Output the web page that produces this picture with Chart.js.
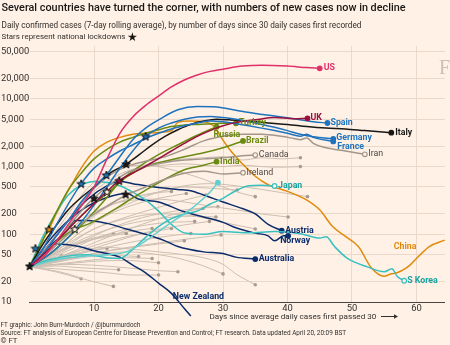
<!DOCTYPE html>
<html><head><meta charset="utf-8">
<script src="https://cdn.jsdelivr.net/npm/chart.js@4"></script>
<style>html,body{margin:0;padding:0;background:#fff1e5;}canvas{display:block}</style>
</head><body>
<div style="width:450px;height:345px"><canvas id="c" width="450" height="345"></canvas></div>
<script>
// ---------- DATA: [days since 30 daily cases, daily cases (7-day avg)] ----------
const us = [[0,33],[2,45],[4,75],[6,140],[8,260],[10,500],[12,1300],[14,3100],[16,5400],[18,8000],[20,11000],[22,15000],[24,19000],[26,22500],[28,25500],[30,27500],[33,30500],[36,31500],[40,30500],[43,29000],[45,28300]];
const uk = [[0,33],[3,60],[6,120],[9,230],[12,430],[13.9,620],[17,900],[19,1150],[22,1700],[24,2200],[26,2800],[28,3400],[30,4000],[32,4500],[35,4900],[38,5300],[41,5100],[43.1,5170]];
const spain = [[0,33],[2,50],[4,90],[6,160],[8,300],[10,500],[11.9,750],[14,1400],[16,2500],[18,3700],[20,4900],[23,6900],[26,7700],[29,7600],[32,6800],[35,6100],[38,5600],[41,5100],[44,4600],[46.2,4400]];
const france = [[0,33],[2,60],[4,130],[6,280],[8,560],[10,950],[12,1300],[14,1700],[16,2100],[18,2600],[20,3100],[22,3600],[24,4000],[26,4400],[28,4700],[30,4600],[32,4300],[34,4000],[36,3700],[38,3400],[40,3100],[42,2800],[43,3000],[44,2700],[47.1,2350]];
const germany = [[0,33],[3,50],[6,90],[9,200],[12,500],[14,950],[16,1700],[18,2800],[20,3700],[22,4400],[24,5000],[26,5400],[28,5500],[30,5300],[32,5000],[34,4600],[36,4200],[38,3800],[40,3400],[42,3000],[44,2750],[47.1,2560]];
const italy = [[0,33],[2,70],[4,130],[6,230],[8,350],[10,500],[12,750],[15,1090],[17,1500],[19,2100],[21,2800],[23,3500],[25,4200],[27,4700],[29,5000],[31,4900],[34,4700],[37,4400],[40,4200],[43,3900],[46,3700],[49,3600],[52,3400],[56.1,3170]];
const iran = [[0,33],[3,70],[6,160],[9,380],[12,700],[15,1000],[18,1200],[21,1400],[24,1800],[27,2400],[30,2800],[33,3000],[36,3000],[39,2800],[41,2600],[42,2500],[43,2650],[44,2200],[46,1900],[49,1700],[52,1520]];
const canada = [[0,33],[3,60],[6,130],[9,280],[12,500],[15,800],[18,1000],[21,1150],[24,1250],[27,1300],[30,1350],[33,1450],[35,1480]];
const turkey = [[0,33],[2,80],[4,200],[6,450],[8,800],[10,1300],[12,1800],[14,2300],[16,2700],[18,3100],[20,3500],[22,3900],[24,4100],[26,4200],[28,4300],[30,4350],[32,4360]];
const russia = [[0,33],[3,50],[6,90],[9,170],[12,350],[14,600],[17,1000],[20,1500],[23,2100],[26,2900],[29,3880]];
const brazil = [[0,33],[3,60],[6,120],[9,230],[12,400],[15,700],[18,1000],[21,1200],[24,1400],[27,1600],[30,1900],[33.1,2390]];
const india = [[0,33],[3,60],[5,90],[7,119],[9,140],[12,200],[15,300],[18,450],[21,650],[24,900],[27,1050],[29,1180]];
const ireland = [[0,33],[3,55],[6,100],[9,170],[12,260],[15,380],[18,500],[21,650],[24,800],[27,850],[30,780],[33.1,813]];
const japan = [[0,33],[3,42],[6,48],[9,50],[12,45],[14,44],[16,60],[18,90],[20,130],[22,170],[24,200],[26,220],[28,280],[30,340],[32,440],[34,520],[36,530],[38,517]];
const singapore = [[0,33],[3,40],[6,45],[9,48],[12,50],[15,55],[18,80],[20,110],[22,150],[24,200],[26,280],[28,420],[29.2,580]];
const china = [[0,33],[1,50],[2,80],[3,118],[4,190],[5,290],[6,450],[7,650],[8,950],[9,1300],[10,1700],[12,2300],[14,2700],[16,3000],[18,3100],[20,3200],[22,3400],[23,4500],[25,4700],[27,4600],[28.5,4000],[29.5,2900],[31,1800],[33,1100],[35,720],[37,540],[40,430],[43,320],[45,230],[47,130],[49,93],[51,66],[53,32],[55,24],[56,26],[57,27],[58,30],[59,35],[60,44],[62,66],[64.4,82]];
const sKorea = [[0,33],[2,90],[4,200],[6,380],[8,530],[10,600],[12,580],[14,520],[16,420],[18,320],[20,220],[22,140],[24,105],[27,100],[30,110],[34,105],[38,110],[42,102],[45,88],[46,92],[47.3,66],[49.3,44],[52.4,33],[55,28],[56.2,31],[57,24],[58.1,20.6]];
const austria = [[0,33],[3,70],[6,160],[9,330],[12,520],[14,600],[16,560],[18,520],[20,490],[23,460],[25,440],[27,380],[30,300],[33,240],[35,200],[37,140],[39.1,113]];
const norway = [[0,33],[3,80],[6,160],[9,260],[12,350],[15,400],[17,330],[20,300],[24,215],[27,180],[30,150],[32,125],[35,104],[37,95],[38,80],[39.4,95],[40.1,95]];
const australia = [[0,33],[3,65],[6,120],[7,160],[9,160],[12,145],[15,120],[18,100],[21,80],[23,66],[27,55],[30,52],[32,46],[35,43]];
const newZealand = [[0,33],[2,55],[4,72],[6,70],[8,65],[10,57],[12,52],[14,46],[16,35],[18,27],[20,19],[22,13.4],[24,8],[25,6.2]];

const otherCountries = [
 [[0,33],[3,60],[6,130],[9,280],[12,500],[15,800],[18,1050],[21,1200],[24,1300],[27,1350],[30,1400],[33,1250],[36,1350],[39,1300],[42,1350]],
 [[0,33],[3,70],[6,160],[9,350],[12,600],[15,850],[18,1000],[21,1050],[24,1100],[27,1050],[30,1000],[33,1050],[36,1000],[39,980],[42,1000]],
 [[0,33],[3,80],[6,200],[9,480],[12,800],[15,1000],[18,1050],[21,950],[24,800],[27,650],[30,500],[33,400],[35,360]],
 [[0,33],[4,55],[8,110],[12,200],[16,300],[20,420],[24,520],[28,560],[32,520],[36,460],[40,400],[43.1,360]],
 [[0,33],[4,60],[8,130],[12,250],[16,350],[20,420],[24,500],[28,480],[32.2,450]],
 [[0,33],[4,70],[8,160],[12,260],[16,320],[20,330],[24,300],[28,260],[32,230],[36,200],[40.1,180]],
 [[0,33],[5,60],[10,120],[15,170],[20,200],[25,190],[30,150],[35,120]],
 [[0,33],[4,45],[8,58],[12,64],[16,60],[20,55],[24,50],[27,45],[30,36],[32,26],[35,18]],
 [[0,33],[5,42],[10,50],[15,55],[20,50],[24,42],[27,34],[30,26]],
 [[0,33],[4,75],[8,160],[12,260],[16,340],[19,400],[22,430]],
 [[0,33],[4,55],[8,110],[12,190],[16,270],[20,340],[24.3,400]],
 [[0,33],[5,65],[10,120],[15,180],[20,250],[24,320],[27.4,380]],
 [[0,33],[5,55],[10,95],[15,150],[20,200],[25,235],[29.2,255]],
 [[0,33],[5,48],[10,75],[15,115],[20,170],[24,215],[26.9,240]],
 [[0,33],[5,60],[10,100],[15,140],[20,170],[25,185],[28.9,180]],
 [[0,33],[5,52],[10,85],[15,120],[20,145],[25.6,155]],
 [[0,33],[5,44],[10,62],[15,88],[20,118],[25,142],[27.9,155]],
 [[0,33],[3,48],[6,64],[9,80],[12,92],[15,103]],
 [[0,33],[4,52],[8,75],[12,95],[16,112],[19,122]],
 [[0,33],[5,46],[10,68],[15,92],[20,112],[22,122]],
 [[0,33],[5,44],[10,58],[15,74],[20,90],[25,103]],
 [[0,33],[5,40],[10,52],[15,62],[20,72],[24,80]],
 [[0,33],[6,44],[12,57],[18,70],[24,84],[29.7,98]],
 [[0,33],[4,39],[8,45],[12,49],[16.9,47]],
 [[0,33],[5,37],[10,42],[15,45],[19,44]],
 [[0,33],[5,36],[10,40],[15,41],[20,38]],
 [[0,33],[5,36],[10,35],[15,32],[20,29],[23,28]],
 [[0,33],[4,31],[8,29],[12,27],[16,25],[20,25]],
 [[0,33],[4,34],[8,32],[13.8,30]],
 [[0,33],[4,44],[8,54],[12,62]],
 [[0,33],[3,30],[6,26],[9,21],[13,17]],
 [[0,33],[4,28],[8,22]],
 [[0,33],[4,52],[8,78],[13,103]],
 [[0,33],[2.5,40],[4.9,48]]
];
const lockdownStars = [[0,34],[0.9,62],[3,118],[7,119],[8,560],[10,340],[11.9,750],[12,425],[13.9,620],[14.9,390],[15,1090],[18,2800]];
const yTickValues = [10,20,50,100,200,500,1000,2000,5000,10000,20000,50000];
const xTickValues = [10,20,30,40,50,60];

// ---------- STYLE ----------
const BG = '#fff1e5', INK = '#33302e', GRID = '#ead9ca';
const C = {us:'#e0306a', uk:'#990f3d', blue:'#1f73be', black:'#1a1817', grey:'#a3968b', green:'#6b8a12', teal:'#38c0c0', orange:'#e08a0b', navy:'#0b2c6c', lteal:'#5fd0cf'};
const highlights = [
 {d:us, c:C.us, lab:'US', dx:4, dy:0},
 {d:uk, c:C.uk, lab:'UK', dx:3, dy:0},
 {d:spain, c:C.blue, lab:'Spain', dx:3, dy:0},
 {d:germany, c:C.blue, lab:'Germany', dx:3, dy:-1},
 {d:france, c:C.blue, lab:'France', dx:4, dy:5},
 {d:italy, c:C.black, lab:'Italy', dx:4, dy:0},
 {d:iran, c:C.grey, lab:'Iran', dx:3.5, dy:0, hollow:true, lc:'#4d4845', normal:true},
 {d:canada, c:C.grey, lab:'Canada', dx:3.5, dy:0, hollow:true, lc:'#4d4845', normal:true},
 {d:ireland, c:C.grey, lab:'Ireland', dx:3.5, dy:0, hollow:true, lc:'#4d4845', normal:true},
 {d:turkey, c:C.green, lab:'Turkey', dx:3, dy:0},
 {d:russia, c:C.green, lab:'Russia', dx:-3, dy:8},
 {d:brazil, c:C.green, lab:'Brazil', dx:3, dy:0},
 {d:india, c:C.green, lab:'India', dx:3.5, dy:0},
 {d:singapore, c:C.lteal},
 {d:japan, c:C.teal, lab:'Japan', dx:3.5, dy:0, hollow:true, lc:'#17a3a3'},
 {d:sKorea, c:C.teal, lab:'S Korea', dx:3, dy:0, hollow:true, lc:'#17a3a3'},
 {d:china, c:C.orange, lab:'China', dx:-51, dy:7, noDot:true},
 {d:austria, c:C.navy, lab:'Austria', dx:3.5, dy:0},
 {d:norway, c:C.navy, lab:'Norway', dx:-8, dy:5.5},
 {d:australia, c:C.navy, lab:'Australia', dx:3.5, dy:0},
 {d:newZealand, c:C.navy, lab:'New Zealand', dx:-18, dy:-19}
];
const starFills = [C.black, C.blue, C.orange, BG, C.blue, C.black, C.blue, BG, C.uk, C.black, C.black, C.blue];

function starImage(fill){
  const cv = document.createElement('canvas'); cv.width = 10; cv.height = 10;
  const g = cv.getContext('2d'); g.beginPath();
  for (let i = 0; i < 10; i++) { const r = i % 2 ? 1.8 : 4.4; const a = -Math.PI/2 + i*Math.PI/5; g.lineTo(5 + r*Math.cos(a), 5.4 + r*Math.sin(a)); }
  g.closePath(); g.fillStyle = fill; g.fill(); g.lineWidth = 1; g.strokeStyle = '#141211'; g.stroke();
  return cv;
}
const starImgs = starFills.map(starImage);
const pts = arr => arr.map(p => ({x:p[0], y:p[1]}));
const lastOnly = r => ctx => ctx.dataIndex === ctx.dataset.data.length - 1 ? r : 0;

const datasets = [];
datasets.push({data: pts(lockdownStars), showLine:false, pointStyle: ctx => starImgs[ctx.dataIndex], pointRadius:4, order:0, clip:false});
highlights.forEach(h => {
  h.ds = datasets.length;
  datasets.push({data: pts(h.d), borderColor:h.c, borderWidth:1.5, cubicInterpolationMode:'monotone', order:1, clip:false,
    pointRadius: h.noDot ? 0 : lastOnly(2.3), pointBackgroundColor: h.hollow ? BG : h.c, pointBorderColor:h.c, pointBorderWidth:1.2});
});
otherCountries.forEach(d => {
  datasets.push({data: pts(d), borderColor:'#cdbfb2', borderWidth:1, cubicInterpolationMode:'monotone', order:2, clip:false,
    pointRadius: lastOnly(1.8), pointBackgroundColor:'#a89b90', pointBorderWidth:0});
});

function fitFont(ctx, text, weight, family, width){ ctx.font = weight + ' 10px ' + family; return 10*width/ctx.measureText(text).width; }
function drawFit(ctx, text, x, y, width, weight, family, color){
  const s = fitFont(ctx, text, weight, family, width);
  ctx.font = weight + ' ' + s.toFixed(2) + 'px ' + family; ctx.fillStyle = color; ctx.textAlign='left'; ctx.textBaseline='middle'; ctx.fillText(text, x, y);
}

const decor = {
  id:'decor',
  beforeDraw(chart){ const c = chart.ctx; c.save(); c.fillStyle = BG; c.fillRect(0,0,chart.width,chart.height);
    c.font = '20px "Liberation Serif"'; c.fillStyle = '#cdbfb2'; c.textBaseline='alphabetic'; c.textAlign='left'; c.fillText('FT', 439, 74); c.restore(); },
  afterDatasetsDraw(chart){
    const c = chart.ctx; c.save(); c.textBaseline = 'middle'; c.textAlign = 'left';
    highlights.forEach(h => {
      if (!h.lab) return;
      const m = chart.getDatasetMeta(h.ds); const p = m.data[m.data.length-1];
      c.font = (h.normal ? '400 ' : '700 ') + '8.8px Roboto'; c.fillStyle = h.lc || h.c;
      c.fillText(h.lab, p.x + h.dx, p.y + h.dy);
    });
    c.restore();
  },
  afterDraw(chart){
    const c = chart.ctx; c.save();
    drawFit(c, 'Several countries have turned the corner, with numbers of new cases now in decline', 1.5, 8.5, 404, '500', 'Roboto', '#1a1817');
    drawFit(c, 'Daily confirmed cases (7-day rolling average), by number of days since 30 daily cases first recorded', 1.5, 25.5, 360, '400', 'Roboto', INK);
    drawFit(c, 'Stars represent national lockdowns', 1.5, 37.5, 124, '400', 'Roboto', INK);
    c.font = '12px "DejaVu Sans"'; c.fillStyle = '#1a1817'; c.fillText('★', 127, 37.5);
    drawFit(c, 'Days since average daily cases first passed 30', 209.5, 316.5, 167, '400', 'Roboto', INK);
    c.strokeStyle = INK; c.lineWidth = 1; c.beginPath(); c.moveTo(381, 316.5); c.lineTo(395, 316.5); c.stroke();
    c.fillStyle = INK; c.beginPath(); c.moveTo(398, 316.5); c.lineTo(394, 314.3); c.lineTo(394, 318.7); c.closePath(); c.fill();
    drawFit(c, 'FT graphic: John Burn-Murdoch / @jburnmurdoch', 0.5, 325.5, 140, '400', 'Roboto', INK);
    drawFit(c, 'Source: FT analysis of European Centre for Disease Prevention and Control; FT research. Data updated April 20, 20:09 BST', 0.5, 333.5, 346, '400', 'Roboto', INK);
    drawFit(c, '© FT', 0.5, 341.5, 17, '400', 'Roboto', INK);
    c.restore();
  }
};

new Chart(document.getElementById('c'), {
  type:'line',
  data:{datasets},
  options:{
    responsive:false, animation:false, devicePixelRatio:1, events:[],
    layout:{padding:{left:1, top:46.2, right:0, bottom:0}},
    plugins:{legend:{display:false}, tooltip:{enabled:false}},
    scales:{
      x:{type:'linear', min:0, max:64.4,
        afterBuildTicks: s => { s.ticks = [0].concat(xTickValues).map(v => ({value:v})); },
        afterFit: s => { s.height = 43; },
        grid:{color: ctx => ctx.tick && ctx.tick.value === 0 ? 'rgba(0,0,0,0)' : GRID, drawTicks:false, lineWidth:1},
        border:{display:true, color:'#4a4441', width:1},
        ticks:{callback: v => v === 0 ? '' : v, color:INK, font:{family:'Roboto', size:9.4}, padding:1, maxRotation:0, autoSkip:false}},
      y:{type:'logarithmic', min:10, max:60000,
        afterBuildTicks: s => { s.ticks = yTickValues.map(v => ({value:v})); },
        afterFit: s => { s.width = 28.6; },
        grid:{color:GRID, drawTicks:false, lineWidth:1},
        border:{display:false},
        ticks:{callback: v => Number(v).toLocaleString('en-US'), crossAlign:'far', color:INK, font:{family:'Roboto', size:9.4}, autoSkip:false, padding:0}}
    }
  },
  plugins:[decor]
});
</script></body></html>
